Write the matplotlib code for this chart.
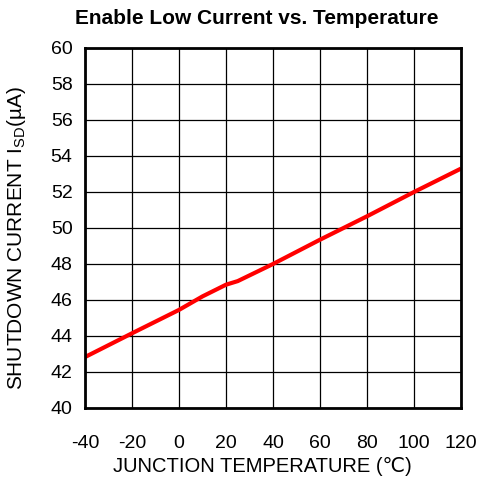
import matplotlib
matplotlib.use("Agg")
import matplotlib.pyplot as plt

# data
temp_c = [-40, -20, 0, 10, 20, 25, 40, 60, 80, 100, 120]
isd_ua = [42.83, 44.15, 45.45, 46.2, 46.85, 47.05, 48.0, 49.35, 50.65, 52.0, 53.3]

x_ticks = [-40, -20, 0, 20, 40, 60, 80, 100, 120]
y_ticks = [40, 42, 44, 46, 48, 50, 52, 54, 56, 58, 60]

plt.rcParams['font.family'] = ['Liberation Sans', 'DejaVu Sans']
plt.rcParams['mathtext.fontset'] = 'custom'
plt.rcParams['mathtext.rm'] = 'Liberation Sans'
plt.rcParams['mathtext.it'] = 'Liberation Sans'
plt.rcParams['axes.unicode_minus'] = False

fig = plt.figure(figsize=(4.8, 4.79), dpi=100)
ax = fig.add_axes([85 / 480, 1 - 408 / 479, 376 / 480, 360 / 479])

ax.plot(temp_c, isd_ua, color='#ff0000', lw=3, solid_capstyle='butt', zorder=3)

ax.set_xlim(-40, 120)
ax.set_ylim(40, 60)
ax.set_xticks(x_ticks)
ax.set_yticks(y_ticks)
ax.grid(True, color='black', lw=0.9)
ax.tick_params(length=0, labelsize=14)
ax.tick_params(axis='x', pad=19.5)
ax.tick_params(axis='y', pad=9)
for s in ax.spines.values():
    s.set_linewidth(2)
    s.set_zorder(4)

fig.text(257 / 480, 1 - 18 / 479, "Enable Low Current vs. Temperature",
         ha='center', va='center', fontsize=15, fontweight='bold')
fig.text(262 / 480, 1 - 466 / 479, "JUNCTION TEMPERATURE (\u2103)",
         ha='center', va='center', fontsize=14.5)
fig.text(17 / 480, 1 - 238 / 479, "SHUTDOWN CURRENT I$_{\\mathrm{SD}}$(\u00b5A)",
         ha='center', va='center', rotation=90, fontsize=15)

fig.savefig("out.png", dpi=100)
